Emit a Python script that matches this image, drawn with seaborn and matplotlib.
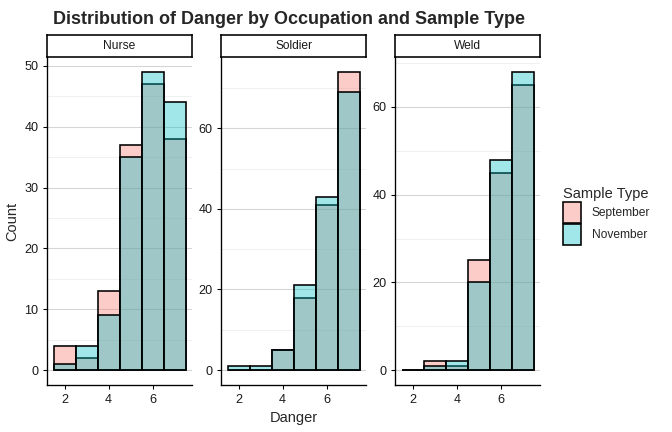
import pandas as pd
import seaborn as sns
import matplotlib.pyplot as plt
from matplotlib.patches import Patch
from matplotlib.colors import to_rgba
from matplotlib.ticker import MultipleLocator

# Danger score bins and counts
danger = [2, 3, 4, 5, 6, 7]
occupations = ['Nurse', 'Soldier', 'Weld']
september = {
    'Nurse': [4, 2, 13, 37, 47, 38],
    'Soldier': [0, 0, 5, 18, 41, 74],
    'Weld': [0, 2, 1, 25, 45, 65],
}
november = {
    'Nurse': [1, 4, 9, 35, 49, 44],
    'Soldier': [1, 1, 5, 21, 43, 69],
    'Weld': [0, 1, 2, 20, 48, 68],
}
sample_types = ['September', 'November']
colors = {'September': '#F8766D', 'November': '#00BFC4'}

rows = []
for occ in occupations:
    for i, d in enumerate(danger):
        rows.append({'Occupation': occ, 'Danger': d, 'Sample': 'September', 'n': september[occ][i]})
        rows.append({'Occupation': occ, 'Danger': d, 'Sample': 'November', 'n': november[occ][i]})
myData = pd.DataFrame(rows)

sns.set_style('white')
plt.rcParams['font.family'] = ['Liberation Sans', 'DejaVu Sans']

fig = plt.figure(figsize=(7, 4.5), dpi=96)
lefts = [0.070, 0.329, 0.588]
minor_steps = {'Nurse': 5, 'Soldier': 10, 'Weld': 10}
major_steps = {'Nurse': 10, 'Soldier': 20, 'Weld': 20}
fill_alpha = 0.37

for occ, left in zip(occupations, lefts):
    ax = fig.add_axes([left, 0.109, 0.216, 0.759])
    sub = myData[myData['Occupation'] == occ]
    for s in sample_types:
        sns.histplot(data=sub[sub['Sample'] == s], x='Danger', weights='n', discrete=True,
                     color=colors[s], alpha=fill_alpha, edgecolor='black', linewidth=1.2, ax=ax)
    top = sub['n'].max()
    ax.set_xlim(1.2, 7.8)
    ax.set_ylim(-0.05 * top, top * 1.05)
    ax.set_xticks([2, 4, 6])
    ax.yaxis.set_major_locator(MultipleLocator(major_steps[occ]))
    ax.yaxis.set_minor_locator(MultipleLocator(minor_steps[occ]))
    ax.grid(axis='y', which='major', color='#D4D4D4', linewidth=0.8)
    ax.grid(axis='y', which='minor', color='#EDEDED', linewidth=0.6)
    ax.set_axisbelow(True)
    for side in ['top', 'right']:
        ax.spines[side].set_visible(False)
    for side in ['left', 'bottom']:
        ax.spines[side].set_color('black')
        ax.spines[side].set_linewidth(1.0)
    ax.tick_params(axis='both', which='major', length=3, color='black', labelsize=9.5,
                   labelcolor='#1A1A1A', left=True, bottom=True)
    ax.tick_params(axis='y', which='minor', length=0)
    ax.set_ylabel('')
    ax.set_xlabel('Danger' if occ == 'Soldier' else '', fontsize=11)
    if occ == 'Nurse':
        ax.set_ylabel('Count', fontsize=11)

    # facet strip
    strip = ax.inset_axes([0, 1.0, 1, 0.067])
    strip.set_xticks([])
    strip.set_yticks([])
    for sp in strip.spines.values():
        sp.set_color('black')
        sp.set_linewidth(1.2)
    strip.text(0.5, 0.5, occ, ha='center', va='center', fontsize=9, color='#1A1A1A')

fig.suptitle('Distribution of Danger by Occupation and Sample Type',
             x=0.43, y=0.975, fontsize=13.5, fontweight='bold')

handles = [Patch(facecolor=to_rgba(colors[s], fill_alpha), edgecolor='black', linewidth=1.2, label=s)
           for s in sample_types]
fig.legend(handles=handles, title='Sample Type', loc='center left', bbox_to_anchor=(0.822, 0.5),
           frameon=False, fontsize=9, title_fontsize=11, handlelength=1.5, handleheight=2.3,
           handletextpad=0.9, labelspacing=0.1, alignment='left')

fig.savefig('out.png', dpi=96)
